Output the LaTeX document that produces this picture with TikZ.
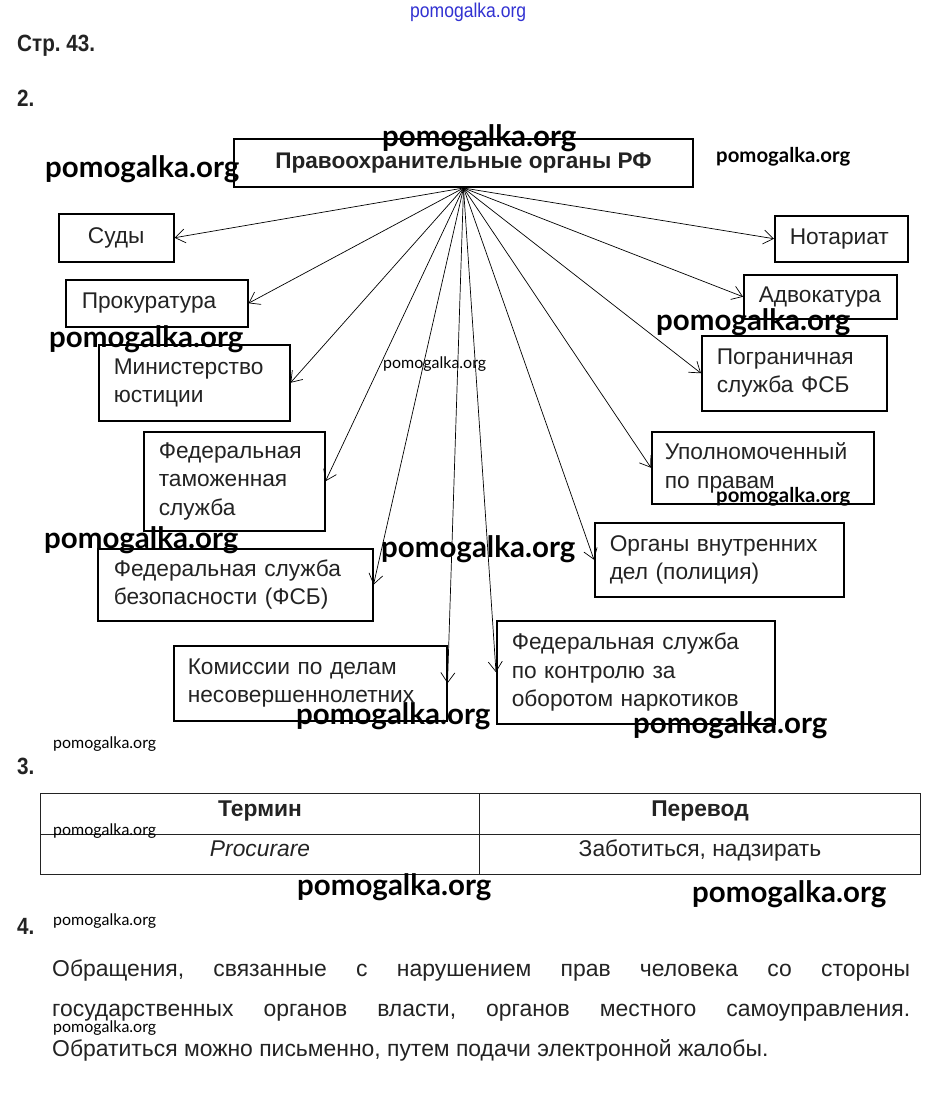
\documentclass[tikz,border=0pt]{standalone}
\usepackage{fontspec}
\setmainfont{Liberation Sans}
\newfontfamily\latof{Lato}
\newfontfamily\narrowf[FakeStretch=0.88]{Liberation Sans}
\usetikzlibrary{arrows.meta}
\definecolor{txt}{RGB}{35,35,35}
\definecolor{wmblue}{RGB}{50,50,210}
\frenchspacing
\begin{document}
\begin{tikzpicture}[x=1pt,y=-1pt,
  box/.style={draw, line width=1.5pt, anchor=north west, inner xsep=15pt, inner ysep=0pt,
    align=left, text=txt, font=\fontsize{22.7}{28.5}\selectfont},
  arr/.style={-{Straight Barb[length=10pt,width=14pt]}, line width=0.7pt},
  num/.style={anchor=base west, inner sep=0pt, font=\narrowf\bfseries\fontsize{23.5}{26}\selectfont, text=txt},
  wm/.style={anchor=base west, inner sep=0pt, text=black},
  cell/.style={anchor=base, inner sep=0pt, text=txt, font=\fontsize{22.8}{24}\selectfont},
  para/.style={anchor=base west, inner sep=0pt, text=txt, font=\fontsize{22.9}{24}\selectfont}
]
\fill[white] (0,0) rectangle (933,1118);
\useasboundingbox (0,0) rectangle (933,1118);

% headings
\node[num] (h1) at (17,52) {Стр.~43.};
\node[num] (h2) at (17,107) {2.};
\node[num] (h3) at (17,774) {3.};
\node[num] (h4) at (17,934) {4.};

% title
\node[draw, line width=2pt, anchor=north west, minimum width=459pt, minimum height=48pt,
  inner sep=0pt, text=txt, font=\bfseries\fontsize{22.6}{24}\selectfont]
  (title) at (233,138) {Правоохранительные органы РФ};

% left boxes
\node[box, minimum width=115pt, minimum height=48pt, text width=85pt, align=center] (sud) at (58,213) {Суды};
\node[box, minimum width=182pt, minimum height=47pt, text width=150pt, inner xsep=16pt] (prok) at (65,279) {Прокуратура};
\node[box, minimum width=191pt, minimum height=76pt, text width=161pt] (min) at (98,344) {Министерство\\юстиции};
\node[box, minimum width=181pt, minimum height=99pt, text width=151pt] (tam) at (143,431) {Федеральная\\таможенная\\служба};
\node[box, minimum width=275pt, minimum height=72pt, text width=243pt, inner xsep=16pt] (fsb) at (97,548) {Федеральная служба\\безопасности (ФСБ)};
\node[box, minimum width=273pt, minimum height=75pt, text width=245pt, inner xsep=14pt] (kom) at (173,645) {Комиссии по делам\\несовершеннолетних};

% right boxes
\node[box, minimum width=278pt, minimum height=103pt, text width=248pt] (nark) at (496,620) {Федеральная служба\\по контролю за\\оборотом наркотиков};
\node[box, minimum width=249pt, minimum height=74pt, text width=219pt] (ovd) at (594,522) {Органы внутренних\\дел (полиция)};
\node[box, minimum width=222pt, minimum height=72pt, text width=196pt, inner xsep=13pt] (upol) at (651,431) {Уполномоченный\\по правам};
\node[box, minimum width=185pt, minimum height=75pt, text width=155pt] (pogr) at (701,335) {Пограничная\\служба ФСБ};
\node[box, minimum width=153pt, minimum height=44pt, text width=123pt] (advo) at (743,274) {Адвокатура};
\node[box, minimum width=133pt, minimum height=46pt, text width=103pt] (nota) at (774,215) {Нотариат};

% connectors
\foreach \t in {sud,prok,min,tam,fsb,kom}
  \draw[arr] (title.south) -- (\t.east);
\foreach \t in {nark,ovd,upol,pogr,advo,nota}
  \draw[arr] (title.south) -- (\t.west);

% table
\coordinate (tnw) at (40,793);
\coordinate (tse) at (920,874);
\draw[line width=0.9pt, draw=txt] (tnw) rectangle (tse);
\draw[line width=0.9pt, draw=txt] (40,834) -- (920,834);
\draw[line width=0.9pt, draw=txt] (479,793) -- (479,874);
\node[cell, font=\bfseries\fontsize{22.8}{24}\selectfont] (c11) at (260,816) {Термин};
\node[cell, font=\bfseries\fontsize{22.8}{24}\selectfont] (c12) at (700,816) {Перевод};
\node[cell, font=\itshape\fontsize{22.8}{24}\selectfont] (c21) at (260,856) {Procurare};
\node[cell] (c22) at (700,856) {Заботиться, надзирать};

% paragraph
\node[para] (p1) at (52,976) {\makebox[858pt][s]{Обращения, связанные с нарушением прав человека со стороны}};
\node[para] (p2) at (52,1016) {\makebox[858pt][s]{государственных органов власти, органов местного самоуправления.}};
\node[para] (p3) at (52,1056) {Обратиться можно письменно, путем подачи электронной жалобы.};

% watermarks
\newcommand\wmL[2]{\node[wm] at (#1,#2) {\resizebox{194pt}{!}{\latof\bfseries pomogalka.org}};}
\newcommand\wmM[2]{\node[wm] at (#1,#2) {\resizebox{134pt}{!}{\latof\bfseries pomogalka.org}};}
\newcommand\wmS[2]{\node[wm] at (#1,#2) {\resizebox{103pt}{!}{\latof pomogalka.org}};}
\wmL{382}{147}
\wmL{45}{178}
\wmL{656}{330}
\wmL{49}{347}
\wmL{44}{548}
\wmL{381}{557}
\wmL{296}{724}
\wmL{633}{733}
\wmL{297}{895}
\wmL{692}{902}
\wmM{716}{163}
\wmM{716}{502}
\wmS{383}{368}
\wmS{53}{748}
\wmS{53}{835}
\wmS{53}{925}
\wmS{53}{1032}
\node[wm, text=wmblue] at (410,18) {\resizebox{116pt}{!}{\narrowf pomogalka.org}};
\end{tikzpicture}
\end{document}
